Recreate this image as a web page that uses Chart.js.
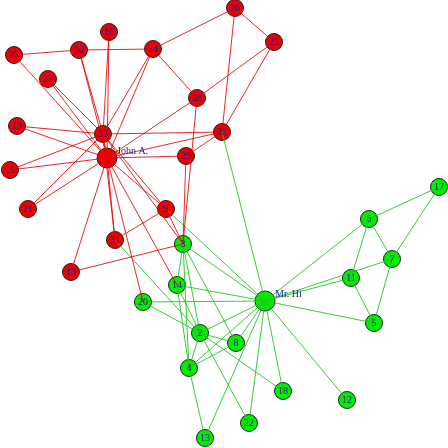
<!DOCTYPE html>
<html><head><meta charset="utf-8">
<script src="https://cdn.jsdelivr.net/npm/chart.js@4"></script>
<style>html,body{margin:0;padding:0;background:#fff}canvas{display:block}</style>
</head><body>
<canvas id="c" width="448" height="448" style="width:448px;height:448px"></canvas>
<script>
const nodeIds = [1,2,3,4,5,6,7,8,9,10,11,12,13,14,15,16,17,18,19,20,21,22,23,24,25,26,27,28,29,30,31,32,33,34];
const nodeX = [265,200,183,189,374,369,392,236,166,71,351,347,205,177,10,109,439,283,17,143,28,249,48,153,274,235,14,197,186,79,115,222,103,107];
const nodeY = [301,333,244,368,323,219,259,343,209,272,278,400,438,285,170,32,187,391,126,302,209,423,79,49,42,8,55,98,156,50,240,132,134,158];
const nodeFaction = ["g","g","g","g","g","g","g","g","r","r","g","g","g","g","r","r","g","g","r","g","r","g","r","r","r","r","r","r","r","r","r","r","r","r"];
const nodeLabels = ["","2","3","4","5","6","7","8","9","10","11","12","13","14","15","16","17","18","19","20","21","22","23","24","25","26","27","28","29","30","31","32","33",""];
const sideLabels = {1:"Mr. Hi",34:"John A."};
const edges = [[1,2],[1,3],[1,4],[1,5],[1,6],[1,7],[1,8],[1,9],[1,11],[1,12],[1,13],[1,14],[1,18],[1,20],[1,22],[1,32],
[2,3],[2,4],[2,8],[2,14],[2,18],[2,20],[2,22],[2,31],[3,4],[3,8],[3,9],[3,10],[3,14],[3,28],[3,29],[3,33],
[4,8],[4,13],[4,14],[5,7],[5,11],[6,7],[6,11],[6,17],[7,17],[9,31],[9,33],[9,34],[10,34],[14,34],[15,33],[15,34],
[16,33],[16,34],[19,33],[19,34],[20,34],[21,33],[21,34],[23,33],[23,34],[24,26],[24,28],[24,30],[24,33],[24,34],
[25,26],[25,28],[25,32],[26,32],[27,30],[27,34],[28,34],[29,32],[29,34],[30,33],[30,34],[31,33],[31,34],[32,33],[32,34],[33,34]];
const greenCross = ["1-9","1-32","2-31"];

function edgeColor(a,b){
  const fa=nodeFaction[a-1], fb=nodeFaction[b-1];
  if(fa===fb) return fa;
  return greenCross.includes(a+"-"+b)?"g":"r";
}
const redPts=[], greenPts=[];
edges.forEach(([a,b])=>{
  const arr = edgeColor(a,b)==="g"?greenPts:redPts;
  arr.push({x:nodeX[a-1],y:nodeY[a-1]},{x:nodeX[b-1],y:nodeY[b-1]},{x:null,y:null});
});
const nodePts = nodeIds.map((id,i)=>({x:nodeX[i],y:nodeY[i]}));
const fill = nodeFaction.map(f=>f==="g"?"#00ee00":"#ee0000");

const labelPlugin = {
  id:"labels",
  afterDatasetsDraw(chart){
    const ctx=chart.ctx, xs=chart.scales.x, ys=chart.scales.y;
    ctx.save();
    ctx.fillStyle="#1a1a8c";
    ctx.font="10px 'Liberation Serif', 'DejaVu Serif', serif";
    ctx.textAlign="center"; ctx.textBaseline="middle";
    nodeIds.forEach((id,i)=>{
      const px=xs.getPixelForValue(nodeX[i]), py=ys.getPixelForValue(nodeY[i]);
      if(nodeLabels[i]) ctx.fillText(nodeLabels[i],px,py+0.5);
      if(sideLabels[id]){ ctx.textAlign="left"; ctx.fillText(sideLabels[id],px+10,py-7); ctx.textAlign="center"; }
    });
    ctx.restore();
  }
};

new Chart(document.getElementById("c"),{
  type:"scatter",
  data:{datasets:[
    {data:redPts,showLine:true,spanGaps:false,borderColor:"rgba(230,0,0,0.85)",borderWidth:1,pointRadius:0,pointHoverRadius:0,clip:false},
    {data:greenPts,showLine:true,spanGaps:false,borderColor:"rgba(30,200,30,0.9)",borderWidth:1,pointRadius:0,pointHoverRadius:0,clip:false},
    {data:nodePts,showLine:false,clip:false,pointRadius:nodeIds.map(id=>(id===1||id===34)?10:8.5),pointBackgroundColor:fill,pointBorderColor:"#222",pointBorderWidth:1}
  ]},
  options:{
    responsive:false,animation:false,
    layout:{padding:0,autoPadding:false},
    plugins:{legend:{display:false},tooltip:{enabled:false}},
    scales:{
      x:{type:"linear",min:0,max:448,display:false},
      y:{type:"linear",min:0,max:448,reverse:true,display:false}
    }
  },
  plugins:[labelPlugin]
});
</script>
</body></html>
